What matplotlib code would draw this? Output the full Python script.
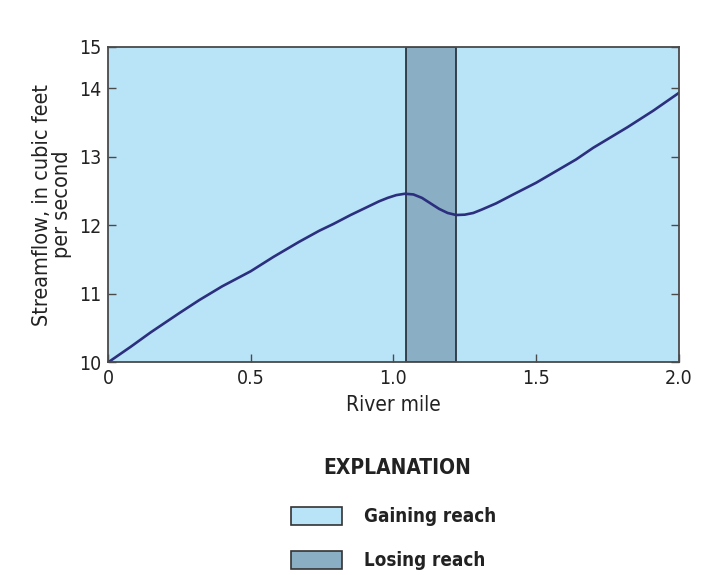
import matplotlib.pyplot as plt
from matplotlib.patches import Rectangle

# River mile vs streamflow (cubic feet per second)
river_mile = [0.0, 0.08, 0.15, 0.25, 0.32, 0.40, 0.50, 0.58, 0.67, 0.74, 0.79,
              0.85, 0.91, 0.95, 0.98, 1.01, 1.04, 1.07, 1.10, 1.13, 1.16, 1.19,
              1.22, 1.25, 1.28, 1.31, 1.36, 1.42, 1.50, 1.57, 1.64, 1.70, 1.76,
              1.82, 1.91, 2.0]
streamflow = [10.0, 10.23, 10.44, 10.72, 10.91, 11.11, 11.33, 11.54, 11.76,
              11.92, 12.02, 12.15, 12.27, 12.35, 12.40, 12.44, 12.46, 12.45,
              12.40, 12.32, 12.24, 12.18, 12.15, 12.155, 12.18, 12.23, 12.32,
              12.45, 12.62, 12.79, 12.96, 13.13, 13.28, 13.43, 13.67, 13.93]
losing_reach = (1.045, 1.22)

x_ticks = [0, 0.5, 1.0, 1.5, 2.0]
x_labels = ["0", "0.5", "1.0", "1.5", "2.0"]
y_top = 14.6  # top of the axis as drawn in the original (labeled 15)
y_ticks = [10, 11, 12, 13, 14, y_top]
y_labels = ["10", "11", "12", "13", "14", "15"]

GAIN = "#b9e4f8"
LOSE = "#8aaec4"
LINE = "#2b2f7e"
EDGE = "#4a4a4a"
TEXT = "#222222"

plt.rcParams["font.family"] = ["DejaVu Sans"]
plt.rcParams["font.stretch"] = "condensed"

fig = plt.figure(figsize=(7.02, 5.75), dpi=100)
ax = fig.add_axes([0.1538, 0.3696, 0.967 - 0.1538, 0.9183 - 0.3696])
ax.set_facecolor(GAIN)
ax.axvspan(*losing_reach, facecolor=LOSE, edgecolor="#2a3540", linewidth=1.3)
ax.plot(river_mile, streamflow, color=LINE, linewidth=1.9)

ax.set_xlim(0, 2.0)
ax.set_ylim(10, y_top)
ax.set_xticks(x_ticks, x_labels)
ax.set_yticks(y_ticks, y_labels)
ax.tick_params(direction="in", length=6, width=1, colors=EDGE, labelcolor=TEXT,
               labelsize=14, right=True, top=False, pad=5)
for s in ax.spines.values():
    s.set_color(EDGE)
    s.set_linewidth(1.3)

ax.set_xlabel("River mile", fontsize=15, color=TEXT, labelpad=5)
ax.set_ylabel("Streamflow, in cubic feet\nper second", fontsize=15.5,
              color=TEXT, labelpad=5, linespacing=1.0)

# Explanation block
fig.text(397 / 702, 1 - 468 / 575, "EXPLANATION", ha="center", va="center",
         fontsize=15, fontweight="bold", color=TEXT)
for (y, fc, label) in [(516, GAIN, "Gaining reach"), (560, LOSE, "Losing reach")]:
    fig.patches.append(Rectangle((291 / 702, 1 - (y + 9) / 575), 51 / 702, 18 / 575,
                                 transform=fig.transFigure, facecolor=fc,
                                 edgecolor="#333333", linewidth=1.2))
    fig.text(364 / 702, 1 - y / 575, label, ha="left", va="center",
             fontsize=13.5, fontweight="bold", color=TEXT)

fig.savefig("out.png", dpi=100)
